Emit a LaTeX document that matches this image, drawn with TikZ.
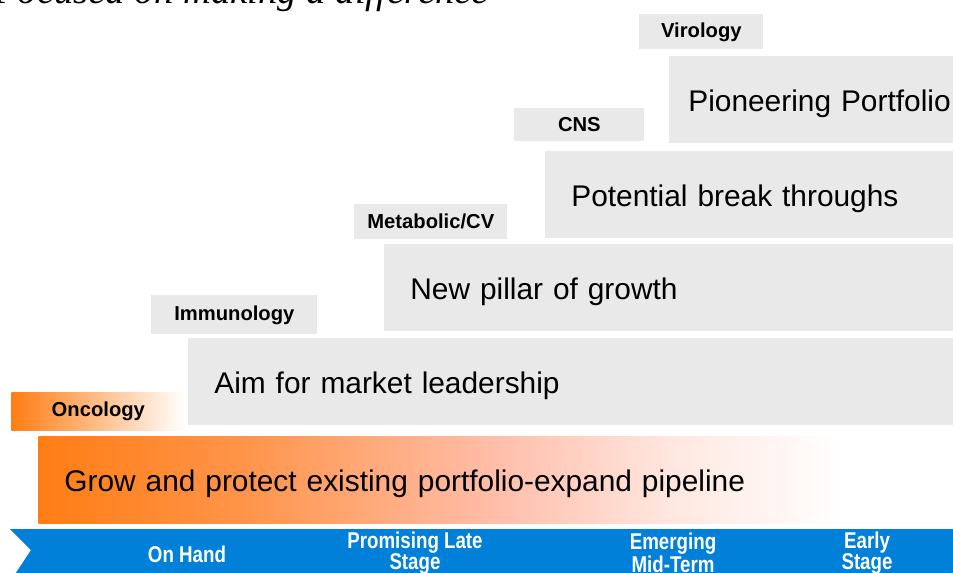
\documentclass[tikz,border=0pt]{standalone}
\usepackage{fontspec}
\setmainfont{Liberation Sans}
\newfontfamily\titlefont{Liberation Serif}
\newfontfamily\narrowfont[FakeStretch=0.82]{Liberation Sans}
\usepackage{tikz}
\usetikzlibrary{shapes.geometric, backgrounds}
\definecolor{grisCaja}{RGB}{233,233,233}
\definecolor{naranja}{RGB}{255,125,20}
\definecolor{salmon}{RGB}{255,190,170}
\definecolor{azulBarra}{RGB}{0,128,216}
\pgfdeclarehorizontalshading{degradado}{100bp}{color(0bp)=(naranja); color(25bp)=(naranja); color(36bp)=(naranja!65!salmon); color(50bp)=(salmon); color(60bp)=(salmon!35!white); color(69bp)=(white); color(100bp)=(white)}
\tikzstyle{etapa} = [rectangle,
                     anchor=north west,
                     fill=grisCaja,
                     minimum height=1.74cm,
                     inner xsep=0.52cm,
                     inner ysep=0pt,
                     align=left,
                     text height=0.55cm,
                     text depth=0.1cm,
                     font=\fontsize{17}{20}\selectfont]
\tikzstyle{area} = [rectangle,
                    anchor=north west,
                    fill=grisCaja,
                    minimum height=0.7cm,
                    inner sep=0pt,
                    font=\bfseries\fontsize{11.5}{13}\selectfont]
\tikzstyle{fase} = [text=white,
                    align=center,
                    font=\narrowfont\bfseries\fontsize{13}{12}\selectfont]

\begin{document}
\begin{tikzpicture}[x=0.02cm, y=-0.02cm]
        \clip (0,0) rectangle (953,572);
        \fill[white] (0,0) rectangle (953,572);

        \node (Titulo) [anchor=base west, inner sep=0pt,
            font=\titlefont\itshape\fontsize{22}{26}\selectfont] at (-6,3) {Focused on making a difference};

        \node (Pionero) [etapa, inner xsep=0.38cm, text width=5.86cm] at (669,56) {Pioneering Portfolio};
        \node (Ruptura) [etapa, text width=8.06cm] at (545,151) {Potential break throughs};
        \node (Pilar) [etapa, text width=11.28cm] at (384,244) {New pillar of growth};
        \node (Liderazgo) [etapa, text width=15.2cm] at (188,338) {Aim for market leadership};
        \node (Crecer) [etapa, text width=17.26cm, fill=none, shading=degradado] at (38,436) {Grow and protect existing portfolio-expand pipeline};

        \node (Virologia) [area, minimum width=2.48cm] at (639,14) {Virology};
        \node (SNC) [area, minimum width=2.6cm, minimum height=0.66cm] at (514,108) {CNS};
        \node (Metabolico) [area, minimum width=3.06cm] at (354,204) {Metabolic/CV};
        \node (Inmuno) [area, minimum width=3.32cm, minimum height=0.78cm] at (151,295) {Immunology};
        \node (Oncologia) [area, minimum width=3.48cm, minimum height=0.76cm, fill=none,
            left color=naranja, right color=white] at (11,392) {Oncology};

        \fill[azulBarra] (10,529) -- (1000,529) -- (1000,600) -- (-2,600) -- (31,550) -- cycle;
        \node (Mano) [fase] at (187,554) {On Hand};
        \node (Tardia) [fase] at (415,553) {Promising Late\\Stage};
        \node (Media) [fase] at (673,553) {Emerging\\Mid-Term};
        \node (Temprana) [fase] at (867,553) {Early\\Stage};
    \end{tikzpicture}
\end{document}
